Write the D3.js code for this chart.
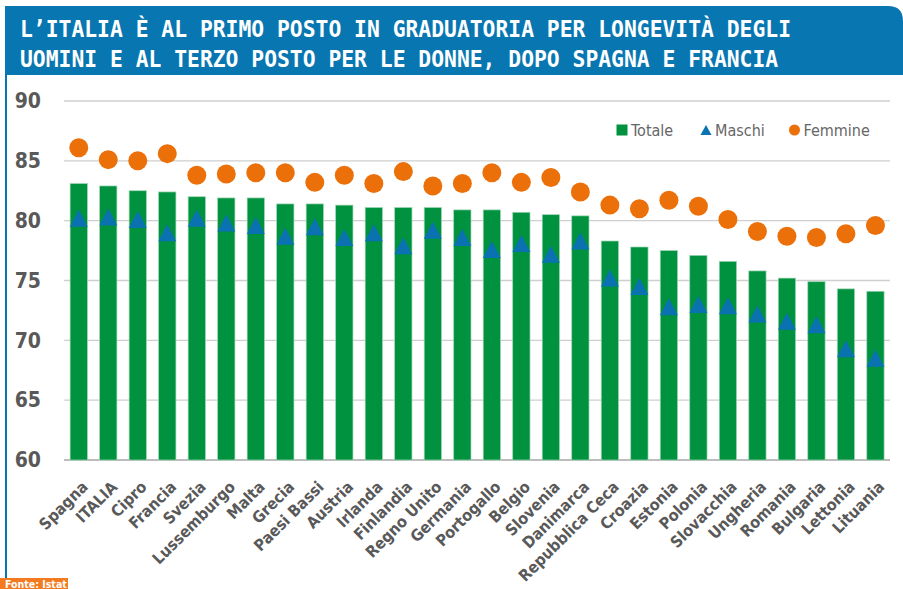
<!DOCTYPE html>
<html>
<head>
<meta charset="utf-8">
<script src="https://cdn.jsdelivr.net/npm/d3@7"></script>
<style>
  body { margin: 0; background: #fff; }
  svg { display: block; }
</style>
</head>
<body>
<div id="chart"></div>
<script>
var paesi = ["Spagna", "ITALIA", "Cipro", "Francia", "Svezia", "Lussemburgo", "Malta", "Grecia",
    "Paesi Bassi", "Austria", "Irlanda", "Finlandia", "Regno Unito", "Germania", "Portogallo", "Belgio",
    "Slovenia", "Danimarca", "Repubblica Ceca", "Croazia", "Estonia", "Polonia", "Slovacchia",
    "Ungheria", "Romania", "Bulgaria", "Lettonia", "Lituania"];
var totale = [83.1, 82.9, 82.5, 82.4, 82.0, 81.9, 81.9, 81.4, 81.4, 81.3, 81.1, 81.1, 81.1, 80.9,
    80.9, 80.7, 80.5, 80.4, 78.3, 77.8, 77.5, 77.1, 76.6, 75.8, 75.2, 74.9, 74.3, 74.1];
var maschi = [80.2, 80.3, 80.1, 79.0, 80.2, 79.8, 79.6, 78.7, 79.5, 78.6, 79.0, 77.9, 79.2, 78.6,
    77.6, 78.1, 77.2, 78.3, 75.2, 74.5, 72.8, 73.0, 72.9, 72.2, 71.6, 71.3, 69.3, 68.5];
var femmine = [86.1, 85.1, 85.0, 85.6, 83.8, 83.9, 84.0, 84.0, 83.2, 83.8, 83.1, 84.1, 82.9, 83.1,
    84.0, 83.2, 83.6, 82.4, 81.3, 81.0, 81.7, 81.2, 80.1, 79.1, 78.7, 78.6, 78.9, 79.6];
var yTicks = [60, 65, 70, 75, 80, 85, 90];
var titolo = ["L\u2019ITALIA \u00C8 AL PRIMO POSTO IN GRADUATORIA PER LONGEVIT\u00C0 DEGLI",
    "UOMINI E AL TERZO POSTO PER LE DONNE, DOPO SPAGNA E FRANCIA"];
var serie = ["Totale", "Maschi", "Femmine"];

var W = 903, H = 589;
var verde = "#00923f", blu = "#0a72b0", arancio = "#ec7009";
var narrow = "'Liberation Sans Narrow', 'DejaVu Sans Condensed', sans-serif";

var svg = d3.select("#chart").append("svg")
    .attr("width", W)
    .attr("height", H);

// banner del titolo
svg.append("path")
    .attr("d", "M5,6 H888 Q903,6 903,21 V75 H5 Z")
    .attr("fill", "#0877b1");
svg.append("rect")
    .attr("x", 5).attr("y", 6).attr("width", 2).attr("height", H)
    .attr("fill", "#0877b1");

titolo.forEach(function(t, i) {
    svg.append("text")
        .attr("x", 20)
        .attr("y", 36.5 + i * 30)
        .attr("textLength", t.length * 12.85)
        .attr("lengthAdjust", "spacingAndGlyphs")
        .style("font-family", "'DejaVu Sans Mono', monospace")
        .style("font-weight", "bold")
        .style("font-size", "23.5px")
        .attr("fill", "#fff")
        .text(t);
});

// scale
var x = d3.scaleBand().domain(paesi).range([64, 890.2]).paddingInner(0.414).paddingOuter(0.207);
var y = d3.scaleLinear().domain([60, 90]).range([460, 101]);

// griglia
svg.append("g").selectAll("line")
    .data(yTicks)
    .enter().append("line")
    .attr("x1", 64).attr("x2", 890)
    .attr("y1", function(d) { return y(d); })
    .attr("y2", function(d) { return y(d); })
    .attr("stroke", function(d) { return d === 60 ? "#bdbdbd" : "#cfcfcf"; })
    .attr("stroke-width", function(d) { return d === 60 ? 2 : 1.3; });

// asse y
var yAxis = svg.append("g")
    .attr("transform", "translate(41,0)")
    .call(d3.axisLeft(y).tickValues(yTicks).tickSize(0).tickPadding(0));
yAxis.select(".domain").remove();
yAxis.selectAll("text")
    .style("font-family", narrow)
    .style("font-weight", "bold")
    .style("font-size", "21px")
    .attr("fill", "#595959");

// barre Totale
svg.append("g").selectAll("rect")
    .data(paesi)
    .enter().append("rect")
    .attr("x", function(d) { return x(d); })
    .attr("y", function(d, i) { return y(totale[i]); })
    .attr("width", x.bandwidth())
    .attr("height", function(d, i) { return y(60) - y(totale[i]); })
    .attr("fill", verde)
    .attr("stroke", "#9fd6b5")
    .attr("stroke-width", 0.7);

// asse x con etichette ruotate
var xAxis = svg.append("g")
    .attr("transform", "translate(0,460)")
    .call(d3.axisBottom(x).tickSize(0).tickPadding(0));
xAxis.select(".domain").remove();
xAxis.selectAll("text")
    .attr("text-anchor", "end")
    .attr("dy", 0)
    .attr("y", 0)
    .attr("transform", "translate(10,28) rotate(-45)")
    .style("font-family", narrow)
    .style("font-weight", "bold")
    .style("font-size", "16px")
    .attr("fill", "#595959");

// triangoli Maschi
svg.append("g").selectAll("path")
    .data(paesi)
    .enter().append("path")
    .attr("d", "M0,-8.5 L9,8.5 L-9,8.5 Z")
    .attr("transform", function(d, i) {
        return "translate(" + (x(d) + x.bandwidth() / 2) + "," + y(maschi[i]) + ")";
    })
    .attr("fill", blu);

// cerchi Femmine
svg.append("g").selectAll("circle")
    .data(paesi)
    .enter().append("circle")
    .attr("cx", function(d) { return x(d) + x.bandwidth() / 2; })
    .attr("cy", function(d, i) { return y(femmine[i]); })
    .attr("r", 9.5)
    .attr("fill", arancio);

// legenda
var legX = [622, 706, 794.5];
var legend = svg.append("g").selectAll("g")
    .data(serie)
    .enter().append("g")
    .attr("transform", function(d, i) { return "translate(" + legX[i] + ",130)"; });
legend.each(function(d, i) {
    var g = d3.select(this);
    if (i === 0) g.append("rect").attr("x", -5.5).attr("y", -5.5).attr("width", 11).attr("height", 11).attr("fill", verde);
    if (i === 1) g.append("path").attr("d", "M0,-5 L5.5,5 L-5.5,5 Z").attr("fill", blu);
    if (i === 2) g.append("circle").attr("r", 5.5).attr("fill", arancio);
    g.append("text")
        .attr("x", 9)
        .attr("y", 6)
        .style("font-family", narrow)
        .style("font-size", "16px")
        .attr("fill", "#666")
        .text(d);
});

// fonte
svg.append("rect")
    .attr("x", 0).attr("y", 578).attr("width", 68).attr("height", 11)
    .attr("fill", "#f47a20");
svg.append("text")
    .attr("x", 5).attr("y", 587.5)
    .style("font-family", narrow)
    .style("font-weight", "bold")
    .style("font-size", "10.5px")
    .attr("fill", "#fff")
    .text("Fonte: Istat");
</script>
</body>
</html>
